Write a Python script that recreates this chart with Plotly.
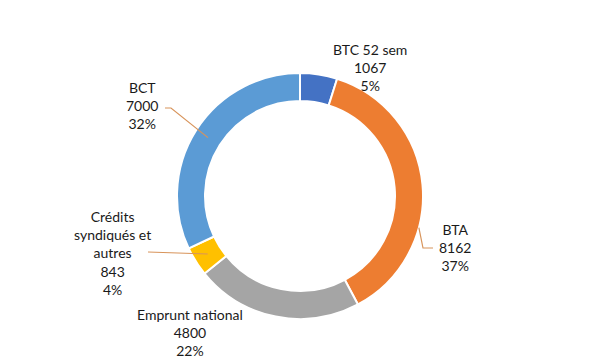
import math
import plotly.graph_objects as go

# ---- data ----
labels = ["BTC 52 sem", "BTA", "Emprunt national", "Crédits syndiqués et autres", "BCT"]
label_lines = ["BTC 52 sem", "BTA", "Emprunt national", "Crédits<br>syndiqués et<br>autres", "BCT"]
values = [1067, 8162, 4800, 843, 7000]
pct_text = ["5%", "37%", "22%", "4%", "32%"]

colors = ["#4472C4", "#ED7D31", "#A5A5A5", "#FFC000", "#5B9BD5"]

# ---- layout style (window pixels) ----
OFF = 8  # page body margin
W, H = 600 - 2 * OFF, 360 - OFF
CX, CY, R_OUT, R_IN = 300, 196, 123, 95
R_MID = (R_OUT + R_IN) / 2
label_pos = [(370, 68), (455, 248), (190, 332), (112, 253), (142, 106)]
# leader: (fraction within slice, radius, label-side points)
leaders = {
    1: (0.65, R_OUT, [(433, 248), (423, 248)]),
    3: (0.5, R_MID, [(148, 252)]),
    4: (0.5, R_MID, [(165, 108), (171, 108)]),
}

def px2paper(x, y):
    return (x - OFF) / W, 1 - (y - OFF) / H

x0, y1 = px2paper(CX - R_OUT, CY - R_OUT)
x1, y0 = px2paper(CX + R_OUT, CY + R_OUT)

fig = go.Figure(go.Pie(
    labels=labels, values=values, sort=False, direction="clockwise", rotation=0,
    hole=R_IN / R_OUT, textinfo="none", hoverinfo="label+value+percent",
    marker=dict(colors=colors, line=dict(color="white", width=2)),
    domain=dict(x=[x0, x1], y=[y0, y1]),
    showlegend=False,
))

total = sum(values)
cum = 0
starts = []
for v in values:
    starts.append(cum)
    cum += v

annotations = []
shapes = []
for i, (lab, v, p) in enumerate(zip(label_lines, values, pct_text)):
    lx, ly = px2paper(*label_pos[i])
    annotations.append(dict(
        x=lx, y=ly, xref="paper", yref="paper", showarrow=False,
        text=f"{lab}<br>{v}<br>{p}", align="center",
        font=dict(family="Lato", size=14, color="#1a1a1a"),
        xanchor="center", yanchor="middle"))
    if i in leaders:
        frac, rr, pts = leaders[i]
        ang = 2 * math.pi * (starts[i] + frac * v) / total
        ax = CX + rr * math.sin(ang)
        ay = CY - rr * math.cos(ang)
        allpts = pts + [(ax, ay)]
        path = ""
        for k, (x, y) in enumerate(allpts):
            X, Y = px2paper(x, y)
            path += ("M" if k == 0 else "L") + f"{X},{Y} "
        shapes.append(dict(type="path", path=path, xref="paper", yref="paper",
                           line=dict(color="#D8945B", width=1.2)))

fig.update_layout(
    width=W, height=H, margin=dict(l=0, r=0, t=0, b=0),
    paper_bgcolor="white", plot_bgcolor="white",
    annotations=annotations, shapes=shapes,
)

fig.write_html("out.html")
